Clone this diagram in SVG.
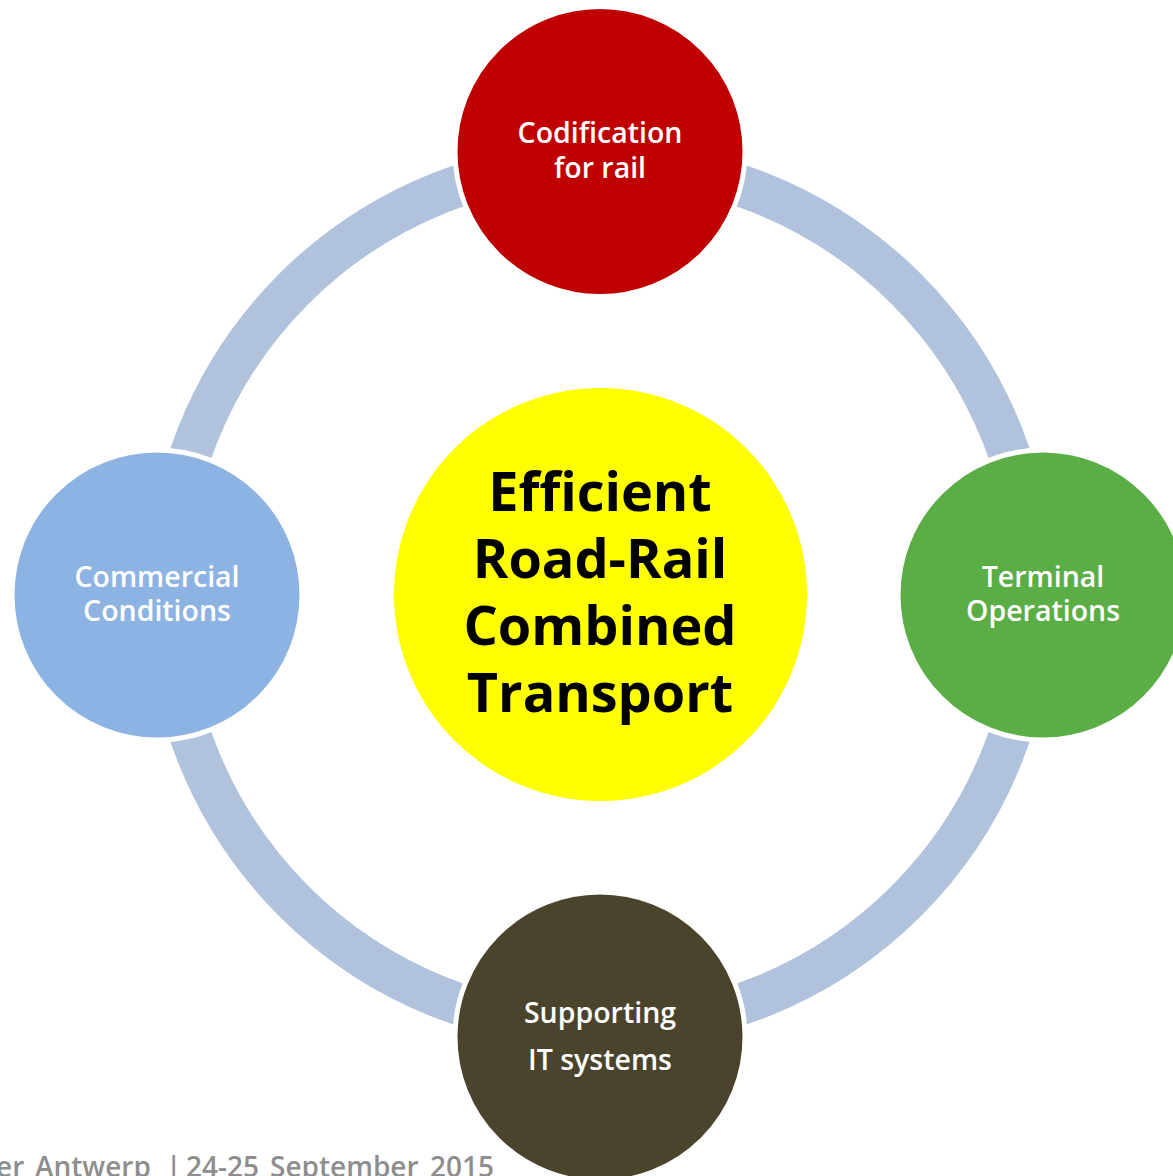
<svg xmlns="http://www.w3.org/2000/svg" width="1173" height="1176" viewBox="0 0 1173 1176">
<style>
.ring{fill:none;stroke:#B1C2DC;stroke-width:42}
.node{stroke:#FFFFFF;stroke-width:5}
.lbl{font-family:"Open Sans","Noto Sans",sans-serif;font-weight:600;font-size:28.5px;fill:#FFFFFF;text-anchor:middle}
.ctr{font-family:"Open Sans","Noto Sans",sans-serif;font-weight:700;font-size:54px;fill:#000000;text-anchor:middle}
.foot{font-family:"Open Sans","Noto Sans",sans-serif;font-weight:600;font-size:28px;fill:#8E8E8E}
</style>
<rect width="1173" height="1176" fill="#FFFFFF"/>
<g id="connectors">
<path class="ring" d="M600,162 A433,433 0 0 1 1033,595"/>
<path class="ring" d="M1033,595 A433,433 0 0 1 600,1028"/>
<path class="ring" d="M600,1028 A433,433 0 0 1 167,595"/>
<path class="ring" d="M167,595 A433,433 0 0 1 600,162"/>
</g>
<g id="center">
<circle cx="600.5" cy="594.5" r="206.5" fill="#FFFF00"/>
<text class="ctr" x="600" y="511">Efficient</text>
<text class="ctr" x="600" y="578">Road-Rail</text>
<text class="ctr" x="600" y="645">Combined</text>
<text class="ctr" x="600" y="712">Transport</text>
</g>
<g id="codification">
<circle class="node" cx="600" cy="151.5" r="145" fill="#C00000"/>
<text class="lbl" x="600" y="143">Codification</text>
<text class="lbl" x="600" y="178">for rail</text>
</g>
<g id="terminal">
<circle class="node" cx="1043" cy="595" r="145" fill="#5BAD45"/>
<text class="lbl" x="1043" y="587">Terminal</text>
<text class="lbl" x="1043" y="621">Operations</text>
</g>
<g id="supporting">
<circle class="node" cx="600" cy="1037" r="145" fill="#4A442D"/>
<text class="lbl" x="600" y="1023">Supporting</text>
<text class="lbl" x="600" y="1070">IT systems</text>
</g>
<g id="commercial">
<circle class="node" cx="157" cy="595" r="145" fill="#8DB3E2"/>
<text class="lbl" x="157" y="587">Commercial</text>
<text class="lbl" x="157" y="621">Conditions</text>
</g>
<text class="foot" y="1177"><tspan x="-4">er</tspan><tspan x="35">Antwerp</tspan><tspan x="166">|</tspan><tspan x="186">24-25</tspan><tspan x="270">September</tspan><tspan x="430">2015</tspan></text>
</svg>
